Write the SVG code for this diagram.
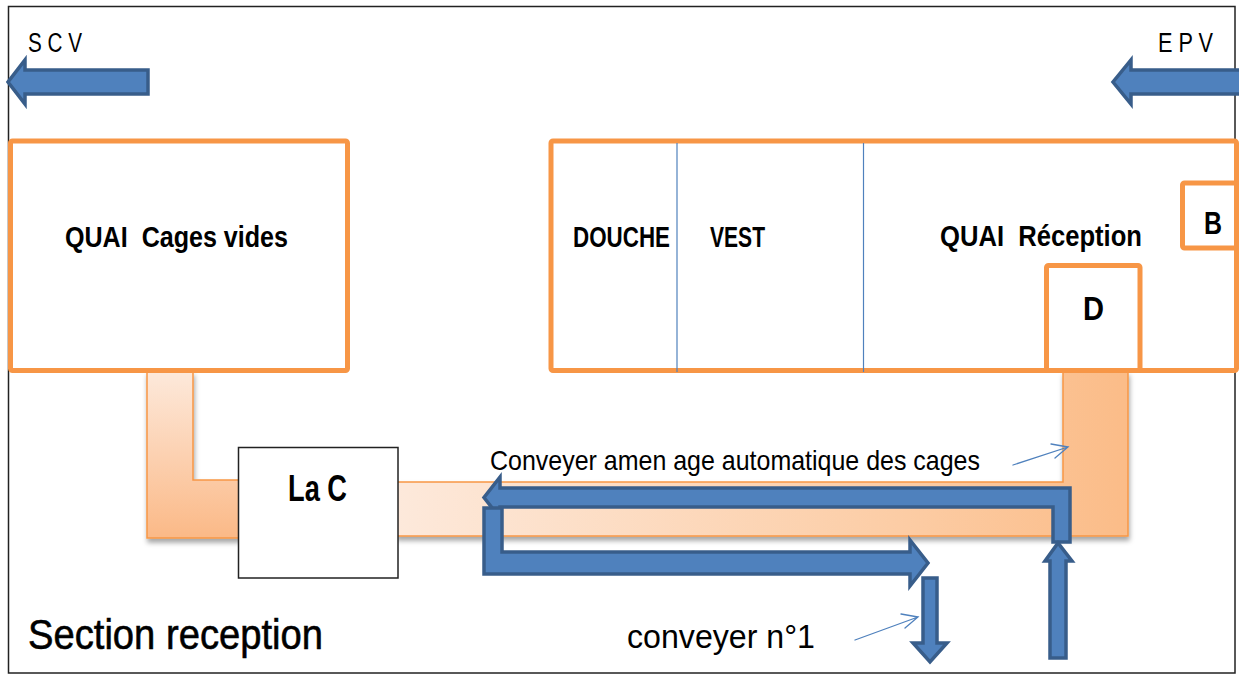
<svg xmlns="http://www.w3.org/2000/svg" width="1239" height="675" viewBox="0 0 1239 675">
  <defs>
    <style>
      .room { fill: #ffffff; stroke: #F79646; stroke-width: 5; }
      .wall { stroke: #4F81BD; stroke-width: 1.2; fill: none; }
      .pipe { stroke: #F79646; stroke-width: 1.5; filter: url(#shadow); }
      .flow { fill: #4F81BD; stroke: #385D8A; stroke-width: 3.5; stroke-linejoin: miter; }
      .pointer { stroke: #4F81BD; stroke-width: 1.3; fill: none; stroke-linecap: round; }
      .t { font-family: "Liberation Sans Narrow", "Liberation Sans", Arial, sans-serif; fill: #000000; }
      .b { font-weight: bold; }
    </style>
    <linearGradient id="gradLeft" gradientUnits="userSpaceOnUse" x1="0" y1="372" x2="0" y2="538">
      <stop offset="0" stop-color="#FDE9DB"/>
      <stop offset="1" stop-color="#FBB987"/>
    </linearGradient>
    <linearGradient id="gradRight" gradientUnits="userSpaceOnUse" x1="398" y1="0" x2="1128" y2="0">
      <stop offset="0" stop-color="#FDE9DB"/>
      <stop offset="0.7" stop-color="#FCCCA4"/>
      <stop offset="1" stop-color="#FBBC88"/>
    </linearGradient>
    <filter id="shadow" x="-5%" y="-5%" width="110%" height="120%">
      <feDropShadow dx="1" dy="4" stdDeviation="2.5" flood-color="#000000" flood-opacity="0.35"/>
    </filter>
  </defs>

  <rect x="0" y="0" width="1239" height="675" fill="#ffffff"/>
  <!-- page frame -->
  <rect x="8.5" y="6.5" width="1226.5" height="666.5" fill="none" stroke="#222222" stroke-width="1.5"/>

  <!-- exit / entry arrows -->
  <g id="scv">
    <polygon class="flow" points="148,70 25,70 25,60 8,82 25,104 25,94 148,94"/>
    <text class="t" x="28" y="52" font-size="27" textLength="54" lengthAdjust="spacingAndGlyphs">S C V</text>
  </g>
  <g id="epv">
    <polygon class="flow" points="1241,70 1131,70 1131,60 1113,82 1131,104 1131,94 1241,94"/>
    <text class="t" x="1158" y="52" font-size="27" textLength="55" lengthAdjust="spacingAndGlyphs">E P V</text>
  </g>

  <!-- conveyer belts -->
  <g id="conveyer-left">
    <path class="pipe" fill="url(#gradLeft)" d="M147,372 H193 V480 H240 V538 H147 Z"/>
  </g>
  <g id="conveyer-main">
    <path class="pipe" fill="url(#gradRight)" d="M396,482 H1063 V372 H1128 V536 H396 Z"/>
  </g>

  <g id="quai-cages-vides">
    <rect class="room" x="10.5" y="141" width="337" height="229.5" rx="2"/>
    <text class="t b" x="65" y="247" font-size="29" textLength="223" lengthAdjust="spacingAndGlyphs" xml:space="preserve">QUAI  Cages vides</text>
  </g>

  <g id="batiment-reception">
    <rect class="room" x="551" y="141" width="685.5" height="229.5" rx="2"/>
    <line class="wall" x1="677" y1="143" x2="677" y2="372"/>
    <line class="wall" x1="863.5" y1="143" x2="863.5" y2="372"/>
  </g>
  <g id="douche">
    <text class="t b" x="573" y="247" font-size="29" textLength="97" lengthAdjust="spacingAndGlyphs">DOUCHE</text>
  </g>
  <g id="vest">
    <text class="t b" x="710" y="247" font-size="29" textLength="55" lengthAdjust="spacingAndGlyphs">VEST</text>
  </g>
  <g id="quai-reception">
    <text class="t b" x="940" y="246" font-size="29" textLength="202" lengthAdjust="spacingAndGlyphs" xml:space="preserve">QUAI  Réception</text>
  </g>
  <g id="b">
    <rect class="room" x="1182.5" y="183" width="54" height="65" rx="2"/>
    <text class="t b" x="1204" y="234" font-size="32" textLength="18" lengthAdjust="spacingAndGlyphs">B</text>
  </g>
  <g id="d">
    <rect class="room" x="1046.5" y="265.5" width="93.5" height="105" rx="2"/>
    <text class="t b" x="1083" y="320" font-size="33" textLength="21" lengthAdjust="spacingAndGlyphs">D</text>
  </g>

  <g id="la-c">
    <rect x="238.5" y="447.5" width="159.5" height="130.5" fill="#ffffff" stroke="#222222" stroke-width="1.5"/>
    <text class="t b" x="288" y="501" font-size="36" textLength="59" lengthAdjust="spacingAndGlyphs">La C</text>
  </g>

  <!-- flow of cages along the conveyer -->
  <g id="connectors">
    <path class="flow" d="M1070,542 V488 H500 V477 L484,497.5 L500,518 V507 H1053 V542 Z"/>
    <path class="flow" d="M484,508 H502 V552 H910 V540 L928,563 L910,586 V574 H484 Z"/>
    <path class="flow" d="M923,578 H937 V643 H947 L930,662 L913,643 H923 Z"/>
    <path class="flow" d="M1050,658 V561 H1045 L1058,543 L1072,561 H1066 V658 Z"/>
    <path class="pointer" d="M1013,465 L1068,447 M1051,444 L1068,447 L1055,458"/>
    <path class="pointer" d="M855,640 L918,617 M901,614 L918,617 L905,628"/>
  </g>

  <g id="labels">
    <text class="t" x="490" y="470" font-size="28" textLength="490" lengthAdjust="spacingAndGlyphs">Conveyer amen age automatique des cages</text>
    <text class="t" x="28" y="649" font-size="43" stroke="#000000" stroke-width="0.6" textLength="295" lengthAdjust="spacingAndGlyphs">Section reception</text>
    <text class="t" x="627" y="648" font-size="33" textLength="188" lengthAdjust="spacingAndGlyphs">conveyer n°1</text>
  </g>
</svg>
